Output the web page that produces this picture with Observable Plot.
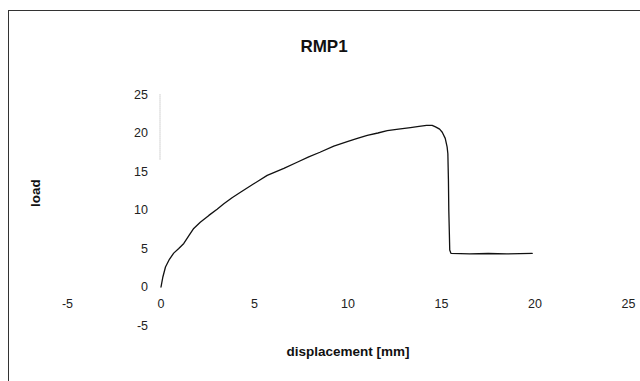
<!DOCTYPE html>
<html>
<head>
<meta charset="utf-8">
<script src="https://cdn.jsdelivr.net/npm/d3@7"></script>
<script src="https://cdn.jsdelivr.net/npm/@observablehq/plot@0.6"></script>
<style>
  html, body { margin: 0; padding: 0; background: #fff; }
  #wrap { position: relative; width: 640px; height: 381px; overflow: hidden; }
  #frame { position: absolute; left: 8px; top: 10px; width: 700px; height: 400px;
           border-top: 1px solid #333; border-left: 1px solid #333; pointer-events: none; }
  svg { font-family: "Liberation Sans", Arial, sans-serif; }
</style>
</head>
<body>
<div id="wrap"><div id="frame"></div></div>
<script>
const title = "RMP1";
const xLabel = "displacement [mm]";
const yLabel = "load";
const xTicks = [-5, 0, 5, 10, 15, 20, 25];
const yTicks = [-5, 0, 5, 10, 15, 20, 25];
const axisTrace = [16.5, 25];
const disp = [0, 0.1, 0.24, 0.45, 0.68, 0.95, 1.22, 1.5, 1.75, 2.1, 2.56, 3.0, 3.36, 3.8, 4.25, 4.96, 5.68, 6.57, 7.28, 7.9, 8.5, 9.24, 10.0, 10.5, 11.03, 11.6, 12.1, 12.7, 13.34, 13.8, 14.2, 14.5, 14.68, 14.9, 15.04, 15.2, 15.3, 15.34, 15.37, 15.39, 15.42, 15.44, 15.5, 15.52, 16.5, 17.5, 18.5, 19.85];
const load = [0, 1.3, 2.6, 3.6, 4.4, 5.0, 5.66, 6.7, 7.6, 8.4, 9.3, 10.1, 10.8, 11.6, 12.3, 13.4, 14.5, 15.4, 16.2, 16.9, 17.5, 18.3, 18.9, 19.3, 19.7, 20.0, 20.3, 20.5, 20.7, 20.85, 21.0, 21.0, 20.8, 20.5, 20.1, 19.3, 18.2, 17.3, 14, 10, 7, 4.8, 4.4, 4.36, 4.3, 4.35, 4.3, 4.36];

const data = disp.map((d, i) => ({x: d, y: load[i]}));

const chart = Plot.plot({
  width: 640,
  height: 381,
  marginLeft: 67,
  marginRight: 12,
  marginTop: 94,
  marginBottom: 56,
  x: {domain: [-5, 25], axis: null},
  y: {domain: [-5, 25], axis: null},
  style: {fontFamily: "'Liberation Sans', Arial, sans-serif", background: "transparent"},
  marks: [
    Plot.ruleX([0], {y1: axisTrace[0], y2: axisTrace[1], dx: -1, stroke: "#999", strokeWidth: 0.8, strokeDasharray: "1,1"}),
    Plot.text(xTicks, {x: d => d, y: 0, dy: 17, text: d => String(d), fontSize: 12.5, fill: "#222"}),
    Plot.text(yTicks, {x: 0, y: d => d, dx: -13, textAnchor: "end", text: d => String(d), fontSize: 12.5, fill: "#222"}),
    Plot.line(data, {x: "x", y: "y", stroke: "#111", strokeWidth: 1.3}),
    Plot.text([title], {frameAnchor: "top", dy: -55, dx: -24, text: d => d, fontSize: 17, fontWeight: "bold", fill: "#111"}),
    Plot.text([xLabel], {frameAnchor: "bottom", dy: 30, text: d => d, fontSize: 13.5, fontWeight: "bold", fill: "#111", style: {letterSpacing: "1px"}}),
    Plot.text([yLabel], {frameAnchor: "left", dx: -32, dy: -3, rotate: -90, text: d => d, fontSize: 13.5, fontWeight: "bold", fill: "#111", style: {letterSpacing: "0.5px"}})
  ]
});
document.getElementById("wrap").prepend(chart);
chart.style.position = "absolute";
chart.style.left = "0";
chart.style.top = "0";
</script>
</body>
</html>
